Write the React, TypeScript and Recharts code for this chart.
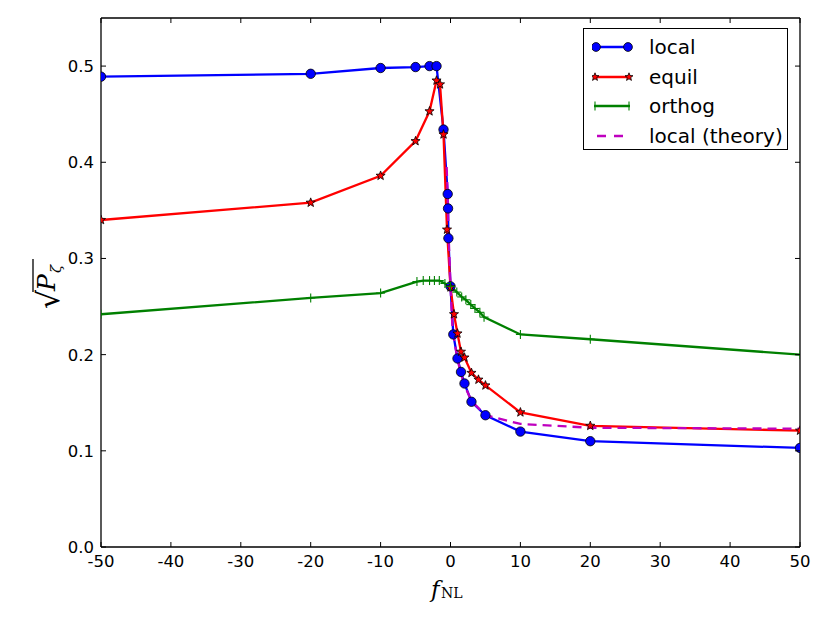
import React from 'react';
import { LineChart, Line, XAxis, YAxis } from 'recharts';

// f_NL values and sqrt(P_zeta)
const localF = [-50, -20, -10, -5, -3, -2, -1, -0.4, -0.35, -0.3, 0, 0.4, 1, 1.5, 2, 3, 5, 10, 20, 50];
const localV = [0.489, 0.492, 0.498, 0.499, 0.5, 0.5, 0.434, 0.367, 0.352, 0.321, 0.271, 0.221, 0.196, 0.182, 0.17, 0.151, 0.137, 0.12, 0.11, 0.103];

const equilF = [-50, -20, -10, -5, -3, -2, -1.5, -1, -0.5, 0, 0.5, 1, 1.5, 2, 3, 4, 5, 10, 20, 50];
const equilV = [0.34, 0.358, 0.386, 0.422, 0.453, 0.485, 0.481, 0.429, 0.33, 0.27, 0.242, 0.222, 0.203, 0.197, 0.181, 0.174, 0.168, 0.14, 0.126, 0.121];

const orthogF = [-50, -20, -10, -4.8, -3.9, -3, -2.3, -1.6, -0.8, 0, 0.9, 1.6, 2.2, 2.9, 3.5, 4.2, 4.8, 10, 20, 50];
const orthogV = [0.242, 0.259, 0.264, 0.276, 0.277, 0.277, 0.277, 0.277, 0.274, 0.271, 0.265, 0.26, 0.257, 0.252, 0.248, 0.244, 0.239, 0.221, 0.216, 0.2];

const theoryF = [-0.55, -0.4, -0.3, 0, 0.3, 1, 1.5, 2, 3, 5, 10, 20, 50];
const theoryV = [0.395, 0.365, 0.33, 0.272, 0.225, 0.195, 0.18, 0.168, 0.152, 0.137, 0.128, 0.124, 0.123];

const xTicks = [-50, -40, -30, -20, -10, 0, 10, 20, 30, 40, 50];
const yTicks = [0, 0.1, 0.2, 0.3, 0.4, 0.5];

const seriesNames = ['local', 'equil', 'orthog', 'local (theory)'];

const toRows = (fs: number[], vs: number[]) => fs.map((f, i) => ({ f, v: vs[i] }));
const localData = toRows(localF, localV);
const equilData = toRows(equilF, equilV);
const orthogData = toRows(orthogF, orthogV);
const theoryData = toRows(theoryF, theoryV);

const FONT = '"DejaVu Sans", sans-serif';
const TICK = 5;
const LW = 2.3;

const starPoints = (cx: number, cy: number, ro: number, ri: number) => {
  const pts: string[] = [];
  for (let i = 0; i < 10; i++) {
    const r = i % 2 === 0 ? ro : ri;
    const a = -Math.PI / 2 + (i * Math.PI) / 5;
    pts.push(`${cx + r * Math.cos(a)},${cy + r * Math.sin(a)}`);
  }
  return pts.join(' ');
};

const CircleDot = (props: any) => (
  <circle key={`c${props.index}`} cx={props.cx} cy={props.cy} r={4.7} fill="#0000ff" stroke="#000" strokeWidth={0.8} />
);
const StarDot = (props: any) => (
  <polygon key={`s${props.index}`} points={starPoints(props.cx, props.cy, 4.8, 2)} fill="#ff0000" stroke="#000" strokeWidth={0.8} />
);
const PlusDot = (props: any) => (
  <g key={`p${props.index}`}>
    <line x1={props.cx - 4.5} y1={props.cy} x2={props.cx + 4.5} y2={props.cy} stroke="#008000" strokeWidth={1.1} />
    <line x1={props.cx} y1={props.cy - 4.5} x2={props.cx} y2={props.cy + 4.5} stroke="#008000" strokeWidth={1.1} />
  </g>
);

const BottomTick = ({ x, y, payload }: any) => (
  <g>
    <line x1={x} y1={y} x2={x} y2={y - TICK} stroke="#000" strokeWidth={1} />
    <text x={x} y={y + 20} textAnchor="middle" fontFamily={FONT} fontSize={16.5} fill="#000">
      {payload.value}
    </text>
  </g>
);
const TopTick = ({ x, y }: any) => <line x1={x} y1={y} x2={x} y2={y + TICK} stroke="#000" strokeWidth={1} />;
const LeftTick = ({ x, y, payload }: any) => (
  <g>
    <line x1={x} y1={y} x2={x + TICK} y2={y} stroke="#000" strokeWidth={1} />
    <text x={x - 7} y={y + 6} textAnchor="end" fontFamily={FONT} fontSize={16.5} fill="#000">
      {Number(payload.value).toFixed(1)}
    </text>
  </g>
);
const RightTick = ({ x, y }: any) => <line x1={x} y1={y} x2={x - TICK} y2={y} stroke="#000" strokeWidth={1} />;

const LegendBox = () => {
  const markers = [
    <g>
      <line x1={2} y1={10} x2={38} y2={10} stroke="#0000ff" strokeWidth={LW} />
      <circle cx={4} cy={10} r={4.4} fill="#0000ff" stroke="#000" strokeWidth={0.8} />
      <circle cx={36} cy={10} r={4.4} fill="#0000ff" stroke="#000" strokeWidth={0.8} />
    </g>,
    <g>
      <line x1={2} y1={10} x2={38} y2={10} stroke="#ff0000" strokeWidth={LW} />
      <polygon points={starPoints(3, 10, 4.2, 1.8)} fill="#ff0000" stroke="#000" strokeWidth={0.8} />
      <polygon points={starPoints(37, 10, 4.2, 1.8)} fill="#ff0000" stroke="#000" strokeWidth={0.8} />
    </g>,
    <g>
      <line x1={2} y1={10} x2={38} y2={10} stroke="#008000" strokeWidth={LW} />
      <line x1={3} y1={5.5} x2={3} y2={14.5} stroke="#008000" strokeWidth={1.1} />
      <line x1={37} y1={5.5} x2={37} y2={14.5} stroke="#008000" strokeWidth={1.1} />
    </g>,
    <g>
      <line x1={5} y1={10} x2={38} y2={10} stroke="#bf00bf" strokeWidth={LW} strokeDasharray="9 8" />
    </g>,
  ];
  return (
    <div
      style={{
        position: 'absolute',
        left: 583,
        top: 28,
        width: 205,
        height: 122,
        border: '1.3px solid #000',
        background: '#fff',
        fontFamily: FONT,
        fontSize: 20,
        boxSizing: 'border-box',
      }}
    >
      {seriesNames.map((name, i) => (
        <div key={name} style={{ position: 'absolute', left: 8, top: 5 + i * 29.7, height: 26, display: 'flex', alignItems: 'center' }}>
          <svg width={42} height={20} style={{ display: 'block' }}>{markers[i]}</svg>
          <span style={{ marginLeft: 15, lineHeight: '26px' }}>{name}</span>
        </div>
      ))}
    </div>
  );
};

export default function App() {
  return (
    <div style={{ position: 'absolute', left: 0, top: 0, width: 830, height: 623, background: '#fff' }}>
      <LineChart width={830} height={623} margin={{ top: 17, right: 29, bottom: 75, left: 100 }}>
        <XAxis
          type="number"
          dataKey="f"
          domain={[-50, 50]}
          ticks={xTicks}
          height={1}
          tickSize={0}
          tickMargin={0}
          tick={<BottomTick />}
          axisLine={{ stroke: '#000', strokeWidth: 1.3 }}
          allowDataOverflow
        />
        <XAxis
          xAxisId="top"
          orientation="top"
          type="number"
          dataKey="f"
          domain={[-50, 50]}
          ticks={xTicks}
          height={1}
          tickSize={0}
          tickMargin={0}
          tick={<TopTick />}
          axisLine={{ stroke: '#000', strokeWidth: 1.3 }}
          allowDataOverflow
        />
        <YAxis
          type="number"
          domain={[0, 0.55]}
          ticks={yTicks}
          width={1}
          tickSize={0}
          tickMargin={0}
          tick={<LeftTick />}
          axisLine={{ stroke: '#000', strokeWidth: 1.3 }}
          allowDataOverflow
        />
        <YAxis
          yAxisId="right"
          orientation="right"
          type="number"
          domain={[0, 0.55]}
          ticks={yTicks}
          width={1}
          tickSize={0}
          tickMargin={0}
          tick={<RightTick />}
          axisLine={{ stroke: '#000', strokeWidth: 1.3 }}
          allowDataOverflow
        />
        <Line data={localData} dataKey="v" type="linear" stroke="#0000ff" strokeWidth={LW} dot={CircleDot} activeDot={false} isAnimationActive={false} />
        <Line data={equilData} dataKey="v" type="linear" stroke="#ff0000" strokeWidth={LW} dot={StarDot} activeDot={false} isAnimationActive={false} />
        <Line data={orthogData} dataKey="v" type="linear" stroke="#008000" strokeWidth={LW} dot={PlusDot} activeDot={false} isAnimationActive={false} />
        <Line data={theoryData} dataKey="v" type="linear" stroke="#bf00bf" strokeWidth={LW} strokeDasharray="9 6" dot={false} activeDot={false} isAnimationActive={false} />
        {/* axis labels */}
        <g transform="translate(50,283) rotate(-90)">
          <text x={-26} y={9} fontFamily='"DejaVu Sans", sans-serif' fontSize={30} fill="#000">√</text>
          <line x1={-9} y1={-17} x2={24} y2={-17} stroke="#000" strokeWidth={1.3} />
          <text x={-8} y={5} fontFamily='"DejaVu Serif", serif' fontStyle="italic" fontSize={25} fill="#000">P</text>
          <text x={10} y={11} fontFamily='"DejaVu Serif", serif' fontStyle="italic" fontSize={15} fill="#000">ζ</text>
        </g>
        <g>
          <text x={431} y={597} fontFamily='"DejaVu Serif", serif' fontStyle="italic" fontSize={23} fill="#000">f</text>
          <text x={441} y={598} fontFamily='"DejaVu Serif", serif' fontSize={14} fill="#000">NL</text>
        </g>
      </LineChart>
      <LegendBox />
    </div>
  );
}
